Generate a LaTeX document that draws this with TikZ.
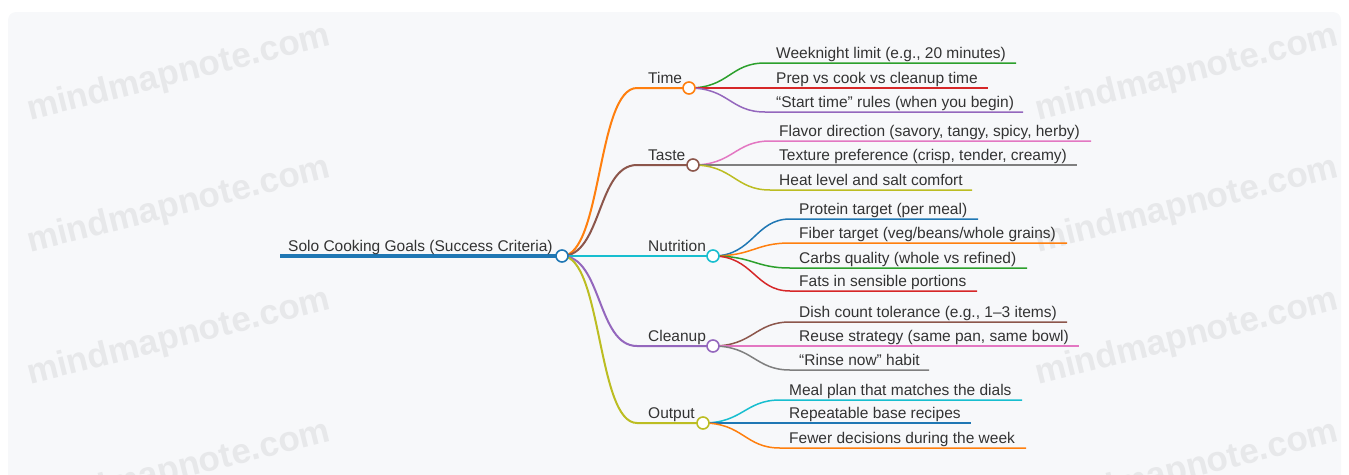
\documentclass[tikz,border=0pt]{standalone}
\usepackage{fontspec}
\setmainfont{Liberation Sans}
\usepackage{tikz}

\definecolor{mmbg}{HTML}{F7F8FA}
\definecolor{mmtext}{HTML}{333333}
\definecolor{mmwater}{HTML}{E7E8EA}
\definecolor{mmblue}{HTML}{1F77B4}
\definecolor{mmorange}{HTML}{FF7F0E}
\definecolor{mmgreen}{HTML}{2CA02C}
\definecolor{mmred}{HTML}{D62728}
\definecolor{mmpurple}{HTML}{9467BD}
\definecolor{mmbrown}{HTML}{8C564B}
\definecolor{mmpink}{HTML}{E377C2}
\definecolor{mmgray}{HTML}{7F7F7F}
\definecolor{mmolive}{HTML}{BCBD22}
\definecolor{mmcyan}{HTML}{17BECF}

\tikzset{
  txt/.style={anchor=base west, inner sep=0pt, text=mmtext, font=\fontsize{15.5}{18}\selectfont},
  knob/.style={circle, draw=#1, fill=white, line width=1.6pt, minimum size=12pt, inner sep=0pt},
  branch/.style={line width=2pt},
  twig/.style={line width=1.5pt},
  wmark/.style={rotate=14, text=mmwater, font=\fontsize{35}{35}\bfseries\selectfont, inner sep=0pt}
}

\begin{document}
\begin{tikzpicture}[x=1pt,y=-1pt]
\useasboundingbox (0,0) rectangle (1349,474);
% objects at depth 100:
\path[fill=mmbg, rounded corners=8pt] (8,12) rectangle (1341,500);
\node[wmark] (wm1) at (179,74) {mindmapnote.com};
\node[wmark] (wm2) at (179,206) {mindmapnote.com};
\node[wmark] (wm3) at (179,338) {mindmapnote.com};
\node[wmark] (wm4) at (179,470) {mindmapnote.com};
\node[wmark] (wm5) at (1187,74) {mindmapnote.com};
\node[wmark] (wm6) at (1187,206) {mindmapnote.com};
\node[wmark] (wm7) at (1187,338) {mindmapnote.com};
\node[wmark] (wm8) at (1187,470) {mindmapnote.com};
% objects at depth 75:
\coordinate (root-s) at (280,256);
\coordinate (root) at (562,256);
\coordinate (time-s) at (637,88);
\coordinate (time) at (689,88);
\coordinate (taste-s) at (637,165);
\coordinate (taste) at (693,165);
\coordinate (nutri-s) at (637,256);
\coordinate (nutri) at (713,256);
\coordinate (clean-s) at (637,346);
\coordinate (clean) at (713,346);
\coordinate (output-s) at (637,423);
\coordinate (output) at (703,423);
% leaf line ends
\coordinate (time1-s) at (765,63);   \coordinate (time1-e) at (1016,63);
\coordinate (time2-s) at (765,88);   \coordinate (time2-e) at (988,88);
\coordinate (time3-s) at (765,112);  \coordinate (time3-e) at (1023,112);
\coordinate (taste1-s) at (770,141); \coordinate (taste1-e) at (1091,141);
\coordinate (taste2-s) at (770,165); \coordinate (taste2-e) at (1077,165);
\coordinate (taste3-s) at (770,190); \coordinate (taste3-e) at (972,190);
\coordinate (nutri1-s) at (790,219); \coordinate (nutri1-e) at (978,219);
\coordinate (nutri2-s) at (790,243); \coordinate (nutri2-e) at (1067,243);
\coordinate (nutri3-s) at (790,268); \coordinate (nutri3-e) at (1027,268);
\coordinate (nutri4-s) at (790,291); \coordinate (nutri4-e) at (977,291);
\coordinate (clean1-s) at (790,322); \coordinate (clean1-e) at (1067,322);
\coordinate (clean2-s) at (790,346); \coordinate (clean2-e) at (1079,346);
\coordinate (clean3-s) at (790,370); \coordinate (clean3-e) at (929,370);
\coordinate (output1-s) at (780,400); \coordinate (output1-e) at (1022,400);
\coordinate (output2-s) at (780,423); \coordinate (output2-e) at (971,423);
\coordinate (output3-s) at (780,448); \coordinate (output3-e) at (1026,448);
% branches
\draw[mmblue, line width=4pt] (root-s) -- (root);
\draw[mmorange, branch] (root) .. controls +(40,0) and +(-40,0) .. (time-s) -- (time);
\draw[mmbrown, branch] (root) .. controls +(40,0) and +(-40,0) .. (taste-s) -- (taste);
\draw[mmcyan, branch] (root) -- (nutri-s) -- (nutri);
\draw[mmpurple, branch] (root) .. controls +(40,0) and +(-40,0) .. (clean-s) -- (clean);
\draw[mmolive, branch] (root) .. controls +(40,0) and +(-40,0) .. (output-s) -- (output);
% leaves
\draw[mmgreen, twig] (time) .. controls +(40,0) and +(-35,0) .. (time1-s) -- (time1-e);
\draw[mmred, twig] (time) -- (time2-s) -- (time2-e);
\draw[mmpurple, twig] (time) .. controls +(40,0) and +(-35,0) .. (time3-s) -- (time3-e);
\draw[mmpink, twig] (taste) .. controls +(40,0) and +(-35,0) .. (taste1-s) -- (taste1-e);
\draw[mmgray, twig] (taste) -- (taste2-s) -- (taste2-e);
\draw[mmolive, twig] (taste) .. controls +(40,0) and +(-35,0) .. (taste3-s) -- (taste3-e);
\draw[mmblue, twig] (nutri) .. controls +(40,0) and +(-35,0) .. (nutri1-s) -- (nutri1-e);
\draw[mmorange, twig] (nutri) .. controls +(40,0) and +(-35,0) .. (nutri2-s) -- (nutri2-e);
\draw[mmgreen, twig] (nutri) .. controls +(40,0) and +(-35,0) .. (nutri3-s) -- (nutri3-e);
\draw[mmred, twig] (nutri) .. controls +(40,0) and +(-35,0) .. (nutri4-s) -- (nutri4-e);
\draw[mmbrown, twig] (clean) .. controls +(40,0) and +(-35,0) .. (clean1-s) -- (clean1-e);
\draw[mmpink, twig] (clean) -- (clean2-s) -- (clean2-e);
\draw[mmgray, twig] (clean) .. controls +(40,0) and +(-35,0) .. (clean3-s) -- (clean3-e);
\draw[mmcyan, twig] (output) .. controls +(40,0) and +(-35,0) .. (output1-s) -- (output1-e);
\draw[mmblue, twig] (output) -- (output2-s) -- (output2-e);
\draw[mmorange, twig] (output) .. controls +(40,0) and +(-35,0) .. (output3-s) -- (output3-e);
% objects at depth 50:
\node[knob=mmblue] (root-k) at (root) {};
\node[knob=mmorange] (time-k) at (time) {};
\node[knob=mmbrown] (taste-k) at (taste) {};
\node[knob=mmcyan] (nutri-k) at (nutri) {};
\node[knob=mmpurple] (clean-k) at (clean) {};
\node[knob=mmolive] (output-k) at (output) {};
\node[txt] (root-t) at (288,251) {Solo Cooking Goals (Success Criteria)};
\node[txt] (time-t) at (648,83) {Time};
\node[txt] (taste-t) at (648,160) {Taste};
\node[txt] (nutri-t) at (648,251) {Nutrition};
\node[txt] (clean-t) at (648,341) {Cleanup};
\node[txt] (output-t) at (648,418) {Output};
\node[txt] (time1-t) at (776,58) {Weeknight limit (e.g., 20 minutes)};
\node[txt] (time2-t) at (776,83) {Prep vs cook vs cleanup time};
\node[txt] (time3-t) at (776,107) {“Start time” rules (when you begin)};
\node[txt] (taste1-t) at (779,136) {Flavor direction (savory, tangy, spicy, herby)};
\node[txt] (taste2-t) at (779,160) {Texture preference (crisp, tender, creamy)};
\node[txt] (taste3-t) at (779,185) {Heat level and salt comfort};
\node[txt] (nutri1-t) at (799,214) {Protein target (per meal)};
\node[txt] (nutri2-t) at (799,238) {Fiber target (veg/beans/whole grains)};
\node[txt] (nutri3-t) at (799,263) {Carbs quality (whole vs refined)};
\node[txt] (nutri4-t) at (799,286) {Fats in sensible portions};
\node[txt] (clean1-t) at (799,317) {Dish count tolerance (e.g., 1–3 items)};
\node[txt] (clean2-t) at (799,341) {Reuse strategy (same pan, same bowl)};
\node[txt] (clean3-t) at (799,365) {“Rinse now” habit};
\node[txt] (output1-t) at (789,395) {Meal plan that matches the dials};
\node[txt] (output2-t) at (789,418) {Repeatable base recipes};
\node[txt] (output3-t) at (789,443) {Fewer decisions during the week};
\end{tikzpicture}
\end{document}
